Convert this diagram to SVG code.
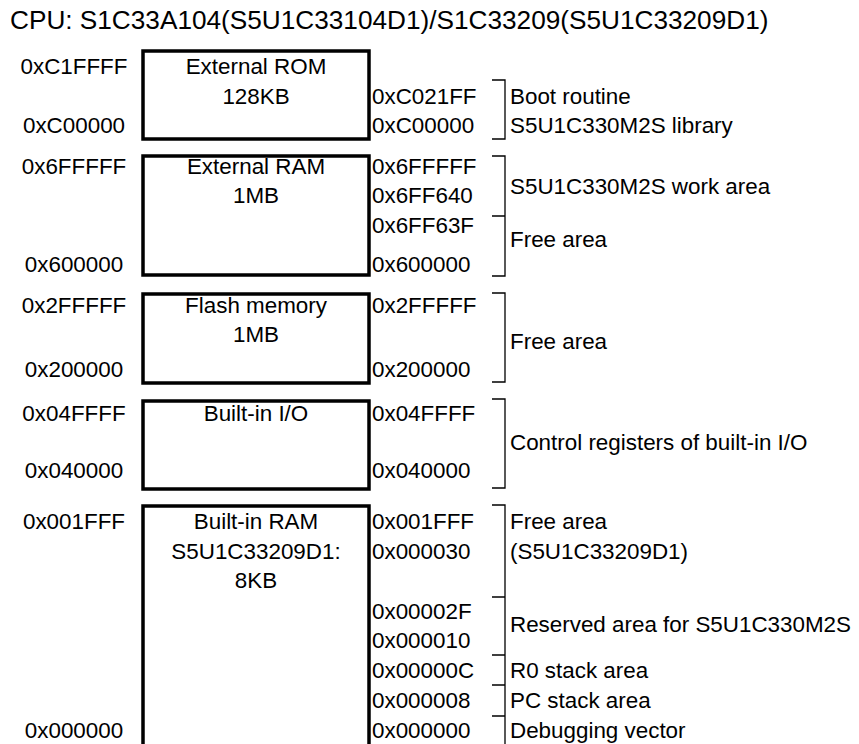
<svg xmlns="http://www.w3.org/2000/svg" width="859" height="744" viewBox="0 0 859 744">
<style>
text{font-family:"Liberation Sans",Arial,sans-serif;font-size:22.4px;fill:#000}
.t{font-size:26.2px}
.l{text-anchor:middle}
.c{text-anchor:middle}
.box{fill:#fff;stroke:#000;stroke-width:3.5}
.br{fill:none;stroke:#000;stroke-width:1.3}
</style>
<rect width="859" height="744" fill="#fff"/>
<text class="t" x="10" y="29">CPU: S1C33A104(S5U1C33104D1)/S1C33209(S5U1C33209D1)</text>

<g id="rom">
<rect class="box" x="143" y="51" width="226" height="88"/>
<text class="c" x="256" y="74">External ROM</text>
<text class="c" x="256" y="104">128KB</text>
<text class="l" x="74" y="74">0xC1FFFF</text>
<text class="l" x="74" y="133">0xC00000</text>
<text x="372" y="104">0xC021FF</text>
<text x="372" y="133">0xC00000</text>
<text x="510" y="104">Boot routine</text>
<text x="510" y="133">S5U1C330M2S library</text>
</g>

<g id="ram">
<rect class="box" x="143" y="156" width="226" height="119"/>
<text class="c" x="256" y="174">External RAM</text>
<text class="c" x="256" y="203">1MB</text>
<text class="l" x="74" y="174">0x6FFFFF</text>
<text class="l" x="74" y="272">0x600000</text>
<text x="372" y="174">0x6FFFFF</text>
<text x="372" y="203">0x6FF640</text>
<text x="372" y="233">0x6FF63F</text>
<text x="372" y="272">0x600000</text>
<text x="510" y="194">S5U1C330M2S work area</text>
<text x="510" y="247">Free area</text>
</g>

<g id="flash">
<rect class="box" x="143" y="294" width="226" height="89"/>
<text class="c" x="256" y="313">Flash memory</text>
<text class="c" x="256" y="342">1MB</text>
<text class="l" x="74" y="313">0x2FFFFF</text>
<text class="l" x="74" y="377">0x200000</text>
<text x="372" y="313">0x2FFFFF</text>
<text x="372" y="377">0x200000</text>
<text x="510" y="349">Free area</text>
</g>

<g id="io">
<rect class="box" x="143" y="401" width="226" height="88"/>
<text class="c" x="256" y="421">Built-in I/O</text>
<text class="l" x="74" y="421">0x04FFFF</text>
<text class="l" x="74" y="478">0x040000</text>
<text x="372" y="421">0x04FFFF</text>
<text x="372" y="478">0x040000</text>
<text x="510" y="450">Control registers of built-in I/O</text>
</g>

<g id="iram">
<rect class="box" x="143" y="506" width="226" height="250"/>
<text class="c" x="256" y="529">Built-in RAM</text>
<text class="c" x="256" y="559">S5U1C33209D1:</text>
<text class="c" x="256" y="588">8KB</text>
<text class="l" x="74" y="529">0x001FFF</text>
<text class="l" x="74" y="738">0x000000</text>
<text x="372" y="529">0x001FFF</text>
<text x="372" y="559">0x000030</text>
<text x="372" y="619">0x00002F</text>
<text x="372" y="648">0x000010</text>
<text x="372" y="678">0x00000C</text>
<text x="372" y="708">0x000008</text>
<text x="372" y="738">0x000000</text>
<text x="510" y="529">Free area</text>
<text x="510" y="559">(S5U1C33209D1)</text>
<text x="510" y="632">Reserved area for S5U1C330M2S</text>
<text x="510" y="678">R0 stack area</text>
<text x="510" y="708">PC stack area</text>
<text x="510" y="738">Debugging vector</text>
</g>

<g id="connectors">
<path class="br" d="M492 80H505V139H492"/>
<path class="br" d="M492 156H505V276H492M492 216H505"/>
<path class="br" d="M492 293H505V382H492"/>
<path class="br" d="M492 399H505V488H492"/>
<path class="br" d="M492 505H505V744M492 597H505M492 655H505M492 685H505M492 716H505"/>
</g>
</svg>
